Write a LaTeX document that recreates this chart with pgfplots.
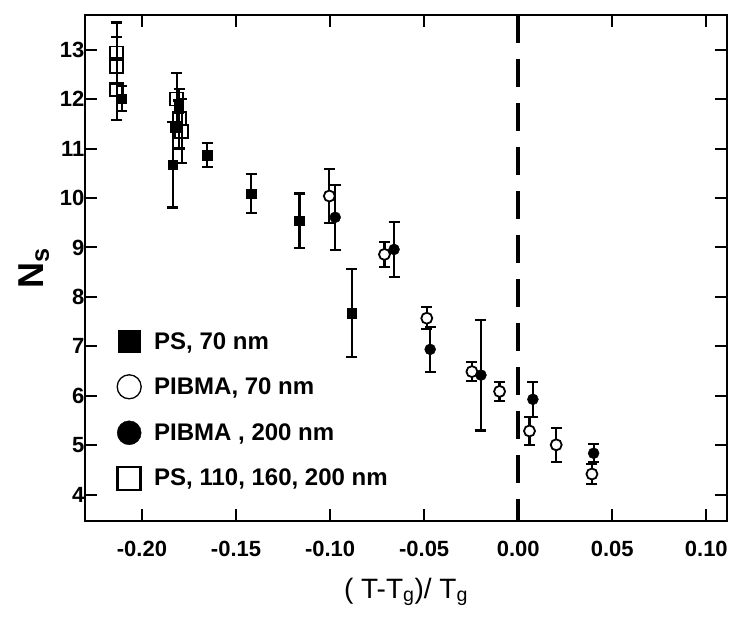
\documentclass[border=0pt]{standalone}
\usepackage{pgfplots}
\pgfplotsset{compat=1.18}
\usepackage{fontspec}
\setmainfont{Liberation Sans}

\pgfplotstableread{
x y e
-0.2108 12.01 0.25
-0.1837 10.67 0.86
-0.1824 11.44 0.10
-0.1805 11.85 0.12
-0.1653 10.87 0.24
-0.1420 10.09 0.40
-0.1163 9.54 0.55
-0.0885 7.67 0.89
}\psseventy

\pgfplotstableread{
x y e
-0.1004 10.04 0.55
-0.0711 8.86 0.25
-0.0486 7.57 0.22
-0.0246 6.49 0.19
-0.0099 6.09 0.19
0.0060 5.29 0.29
0.0202 5.01 0.34
0.0392 4.42 0.20
}\pibmaseventy

\pgfplotstableread{
x y e
-0.0973 9.61 0.66
-0.0660 8.96 0.55
-0.0468 6.94 0.46
-0.0198 6.42 1.12
0.0078 5.93 0.35
0.0401 4.84 0.18
}\pibmatwohundred

\pgfplotstableread{
x y e
-0.2135 12.93 0.62
-0.2135 12.66 0.60
-0.2135 12.20 0.63
-0.1815 12.00 0.53
-0.1802 11.60 0.60
-0.1789 11.35 0.65
}\psother

\pgfplotsset{
  ebars/.style={
    error bars/.cd, y dir=both, y explicit,
    error bar style={line width=2.2pt, black},
    error mark options={rotate=90, mark size=5.5pt, line width=2.2pt, black, solid},
  },
}

\begin{document}
\begin{tikzpicture}[x=1pt,y=1pt]
\useasboundingbox (-85,-102) rectangle (651,521);
\begin{axis}[
  at={(0,0)}, anchor=south west,
  scale only axis, width=642pt, height=506pt,
  xmin=-0.2303, xmax=0.111, ymin=3.47, ymax=13.70,
  axis line style={line width=2pt},
  every tick/.style={line width=2pt, black},
  major tick length=12pt,
  tick align=inside,
  xtick={-0.20,-0.15,-0.10,-0.05,0,0.05,0.10},
  ytick={4,5,6,7,8,9,10,11,12,13},
  /pgf/number format/assume math mode=true,
  ticklabel style={font=\fontsize{22}{26}\selectfont\bfseries},
  xticklabel style={yshift=-17pt, /pgf/number format/.cd, fixed, fixed zerofill, precision=2},
  yticklabel style={xshift=3pt},
  xlabel={( T-T\textsubscript{g})/ T\textsubscript{g}},
  ylabel={\bfseries N\textsubscript{s}},
  xlabel style={font=\fontsize{28}{32}\selectfont, yshift=-14pt},
  ylabel style={font=\fontsize{36}{42}\selectfont, yshift=4pt},
  legend cell align=left,
  legend image code/.code={\draw[#1] plot coordinates {(12pt,0pt)};},
  legend style={at={(axis cs:-0.2303,3.47)}, anchor=south west, xshift=29pt, yshift=29pt,
    draw=none, fill=none, font=\fontsize{24}{28}\selectfont\bfseries, row sep=22pt,
    /tikz/every odd column/.append style={column sep=11pt}},
]
\addplot[black, line width=4pt, dash pattern=on 28pt off 16pt, forget plot] coordinates {(0,13.70) (0,3.47)};

\addplot[only marks, mark=square, mark size=6.5pt, mark options={fill=white, line width=1.8pt}, black, forget plot, ebars]
  table[x=x, y=y, y error=e] {\psother};
\addplot[only marks, mark=square*, mark size=4.8pt, black, forget plot, ebars]
  table[x=x, y=y, y error=e] {\psseventy};
\addplot[only marks, mark=*, mark size=5.5pt, mark options={fill=white, line width=1.8pt}, black, forget plot, ebars]
  table[x=x, y=y, y error=e] {\pibmaseventy};
\addplot[only marks, mark=*, mark size=5.5pt, black, forget plot, ebars]
  table[x=x, y=y, y error=e] {\pibmatwohundred};

\addlegendimage{only marks, mark=square*, mark size=11pt, black}
\addlegendentry{PS, 70 nm}
\addlegendimage{only marks, mark=*, mark size=12pt, mark options={fill=white, line width=1.3pt}, black}
\addlegendentry{PIBMA, 70 nm}
\addlegendimage{only marks, mark=*, mark size=12pt, black}
\addlegendentry{PIBMA , 200 nm}
\addlegendimage{only marks, mark=square, mark size=11.5pt, mark options={line width=2.5pt}, black}
\addlegendentry{PS, 110, 160, 200 nm}
\end{axis}
\end{tikzpicture}
\end{document}
